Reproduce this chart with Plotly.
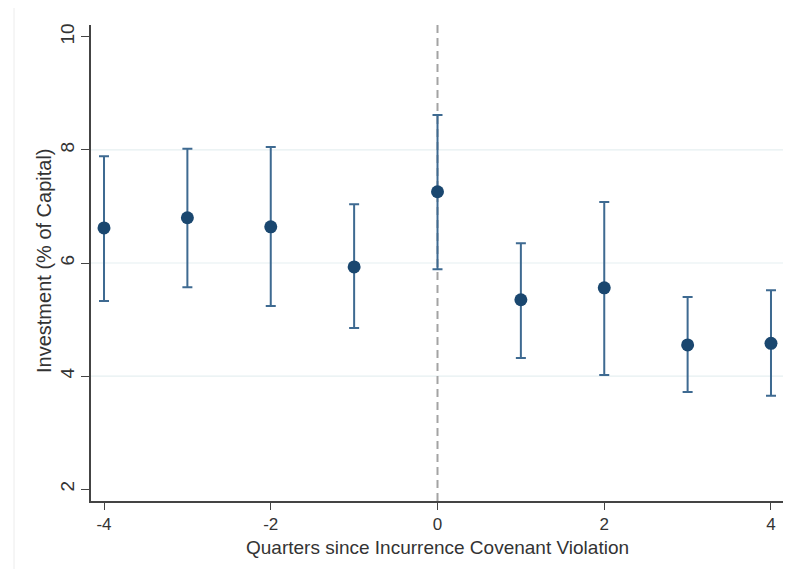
import plotly.graph_objects as go

quarters = [-4, -3, -2, -1, 0, 1, 2, 3, 4]
estimate = [6.62, 6.80, 6.64, 5.93, 7.26, 5.35, 5.56, 4.55, 4.58]
ci_upper = [7.89, 8.02, 8.05, 7.04, 8.62, 6.35, 7.08, 5.40, 5.52]
ci_lower = [5.33, 5.57, 5.24, 4.85, 5.89, 4.32, 4.02, 3.72, 3.65]
y_ticks = [2, 4, 6, 8, 10]
x_ticks = [-4, -2, 0, 2, 4]
x_title = "Quarters since Incurrence Covenant Violation"
y_title = "Investment (% of Capital)"

err_plus = [u - e for u, e in zip(ci_upper, estimate)]
err_minus = [e - l for e, l in zip(estimate, ci_lower)]

# page body has an 8px margin: figure drawn at (8, 8)
OFF = 8
W, H = 797 - 2 * OFF, 577 - 2 * OFF
PL, PR, PT, PB = 91, 783, 25, 501          # plot area on screen
L, T = PL - OFF, PT - OFF
R = (OFF + W) - PR
B = (OFF + H) - PB
pw, ph = PR - PL, PB - PT


def px_x(sx):
    return (sx - PL) / pw


def px_y(sy):
    return (PB - sy) / ph


FONT = "Liberation Sans, Arial, Helvetica, sans-serif"
INK = "#333333"

fig = go.Figure()

for g in y_ticks[1:-1]:
    fig.add_hline(y=g, line=dict(color="#e6eff1", width=1.2), layer="below")

fig.add_vline(x=0, line=dict(color="#a3a3a3", width=2, dash="8px,5px"), layer="below")

fig.add_trace(go.Scatter(
    x=quarters, y=estimate, mode="markers",
    marker=dict(color="#1a476f", size=13),
    error_y=dict(type="data", symmetric=False, array=err_plus, arrayminus=err_minus,
                 color="#3e6a91", thickness=2, width=5),
    showlegend=False, cliponaxis=False,
))

# outer graph-region frame
fig.add_shape(type="line", xref="paper", yref="paper",
              x0=px_x(14), x1=px_x(14), y0=px_y(580), y1=px_y(5),
              line=dict(color="#ececec", width=1), layer="below")
fig.add_shape(type="line", xref="paper", yref="paper",
              x0=px_x(14), x1=px_x(800), y0=px_y(5), y1=px_y(5),
              line=dict(color="#ececec", width=1), layer="below")

fig.add_annotation(text=y_title, xref="paper", yref="paper",
                   x=px_x(44), y=px_y(261), xanchor="center", yanchor="middle",
                   textangle=-90, showarrow=False,
                   font=dict(family=FONT, size=20, color=INK))
fig.add_annotation(text=x_title, xref="paper", yref="paper",
                   x=px_x(437), y=px_y(535), xanchor="center", yanchor="top",
                   showarrow=False,
                   font=dict(family=FONT, size=19, color=INK))

fig.update_layout(
    width=W, height=H,
    margin=dict(l=L, r=R, t=T, b=B, autoexpand=False),
    plot_bgcolor="white", paper_bgcolor="white",
    font=dict(family=FONT, color=INK),
)
fig.update_xaxes(
    range=[-4.156, 4.144], tickvals=x_ticks, ticktext=[str(v) for v in x_ticks],
    showgrid=False, zeroline=False, showline=True, linecolor="#444444", linewidth=1.5,
    ticks="outside", ticklen=7, tickcolor="#444444", automargin=False,
    tickfont=dict(family=FONT, size=17, color=INK),
)
fig.update_yaxes(
    range=[1.79, 10.21], tickvals=y_ticks, ticktext=[str(v) for v in y_ticks],
    showgrid=False, zeroline=False,
    showline=True, linecolor="#444444", linewidth=1.5, automargin=False,
    ticks="outside", ticklen=8, tickcolor="#444444", tickangle=-90,
    tickfont=dict(family=FONT, size=19, color=INK),
)

fig.write_html("out.html")
